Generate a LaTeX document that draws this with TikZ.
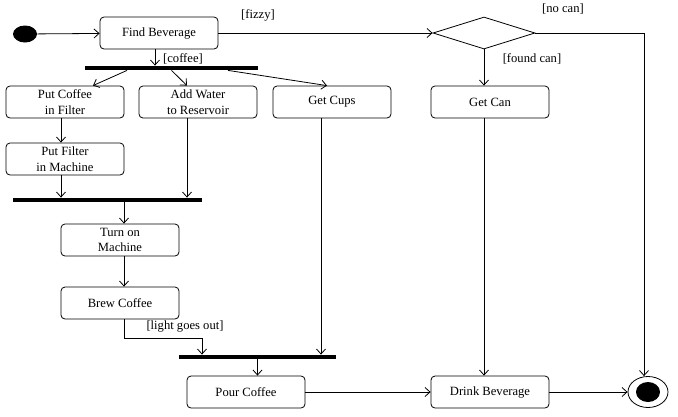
\documentclass[tikz,border=0pt]{standalone}
\usepackage{fontspec}
\setmainfont{Liberation Serif}
\usetikzlibrary{shapes.geometric,arrows.meta}
\begin{document}
\begin{tikzpicture}[x=1pt,y=-1pt,
  font=\fontsize{12.6}{15.5}\selectfont,
  line width=0.8pt,
  >={Straight Barb[length=5pt,width=9pt]},
  act/.style={draw,rounded corners=4pt,minimum width=118pt,minimum height=32pt,align=center,inner sep=1pt},
  bar/.style={fill=black,inner sep=0pt,minimum height=4pt},
  guard/.style={inner sep=1pt}]
\useasboundingbox (0,0) rectangle (678,416);
\node[ellipse,fill=black,minimum width=24pt,minimum height=17pt,inner sep=0pt] (start) at (25,34) {};
\node[act] (find) at (159,33) {Find Beverage};
\node[diamond,draw,minimum width=102pt,minimum height=32pt,inner sep=0pt] (decide) at (484,33) {};
\node[bar,minimum width=173pt] (fork) at (171.5,68) {};
\node[act] (coffee) at (65,102) {Put Coffee\\in Filter};
\node[act] (water) at (198,102) {Add Water\\to Reservoir};
\node[act] (cups) at (332,102) {Get Cups};
\node[act] (can) at (490,102) {Get Can};
\node[act] (filter) at (65,159) {Put Filter\\in Machine};
\node[bar,minimum width=189pt] (join1) at (107.5,200) {};
\node[act] (turnon) at (120,240) {Turn on\\Machine};
\node[act] (brew) at (120,303) {Brew Coffee};
\node[bar,minimum width=157pt] (join2) at (257.5,357) {};
\node[act] (pour) at (246,392) {Pour Coffee};
\node[act] (drink) at (490,392) {Drink Beverage};
\node[ellipse,draw,minimum width=40pt,minimum height=31pt,inner sep=0pt] (final) at (648,392) {};
\fill (final.center) ellipse (12 and 10);
\node[guard] (lblfizzy) at (258,15) {[fizzy]};
\node[guard] (lblnocan) at (563,9) {[no can]};
\node[guard] (lblcoffee) at (183,59) {[coffee]};
\node[guard] (lblfound) at (532,59) {[found can]};
\node[guard] (lbllight) at (185,326) {[light goes out]};
\draw[->] (start) -- (find);
\draw[->] (find) -- (decide);
\draw[->] ([xshift=-4pt]find.south) -- ([xshift=-4pt]find.south |- fork.north);
\draw[->] ([xshift=-44.5pt]fork.south) -- ([xshift=28pt]coffee.north);
\draw[->] (fork.south) -- ([xshift=-11pt]water.north);
\draw[->] ([xshift=56.5pt]fork.south) -- ([xshift=-5pt]cups.north);
\draw[->] ([xshift=-4pt]coffee.south) -- ([xshift=-4pt]filter.north);
\draw[->] ([xshift=-4pt]filter.south) -- ([xshift=-4pt]filter.south |- join1.north);
\draw[->] ([xshift=-11pt]water.south) -- ([xshift=-11pt]water.south |- join1.north);
\draw[->] ([xshift=4pt]turnon.north |- join1.south) -- ([xshift=4pt]turnon.north);
\draw[->] ([xshift=4pt]turnon.south) -- ([xshift=4pt]brew.north);
\draw[->] ([xshift=4pt]brew.south) -- ++(0,19) -| ([xshift=-55.5pt]join2.north);
\draw[->] ([xshift=-11pt]cups.south) -- ([xshift=-11pt]cups.south |- join2.north);
\draw[->] (join2.south) -- (join2.south |- pour.north);
\draw[->] (pour) -- (drink);
\draw[->] (decide.south) -- (decide.south |- can.north);
\draw[->] (decide.south |- can.south) -- (decide.south |- drink.north);
\draw[->] (decide.east) -| ([xshift=-4pt]final.north);
\draw[->] (drink) -- (final);
\end{tikzpicture}
\end{document}
